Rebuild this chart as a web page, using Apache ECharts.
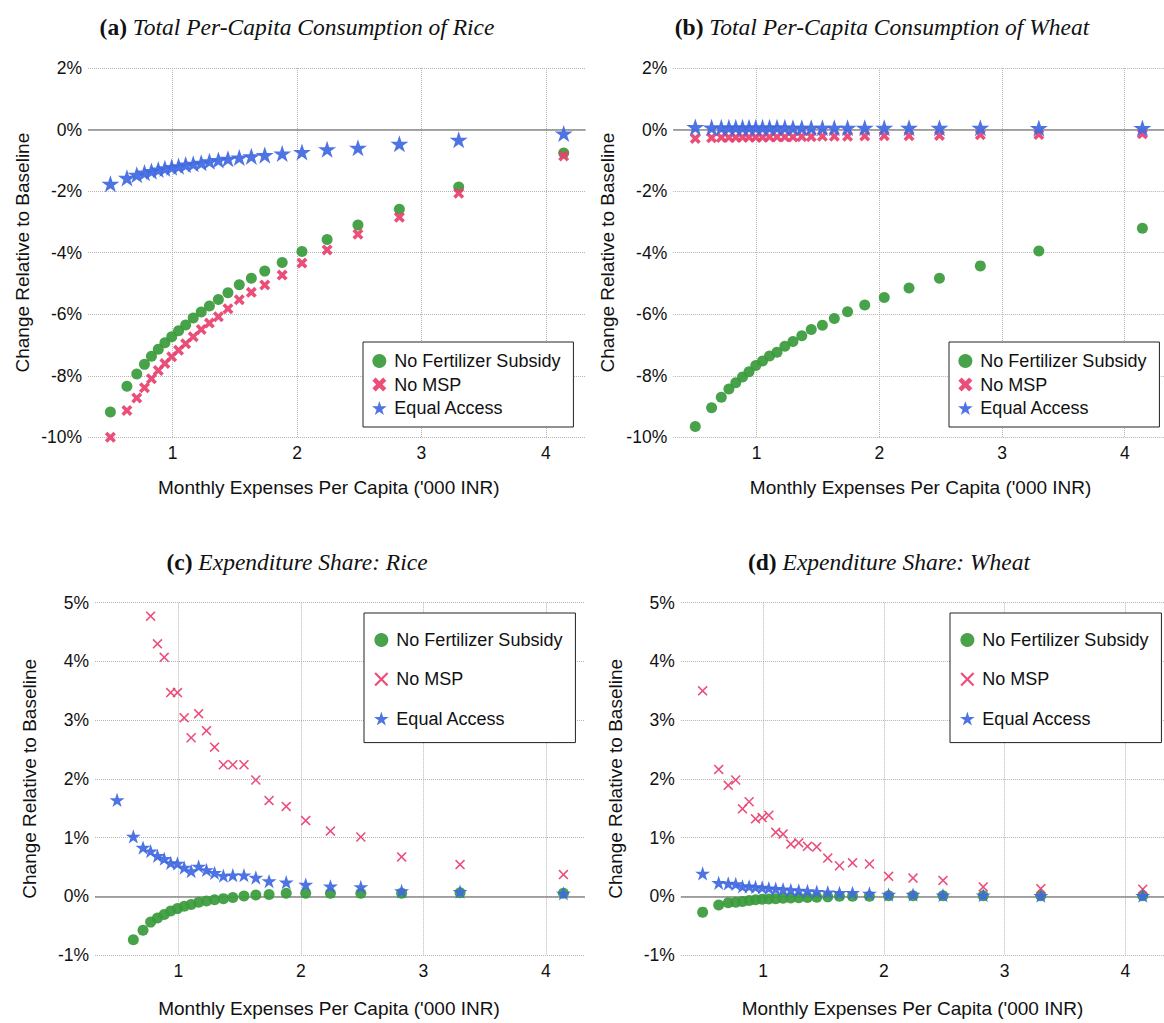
<!DOCTYPE html>
<html>
<head>
<meta charset="utf-8">
<script src="https://cdn.jsdelivr.net/npm/echarts@6/dist/echarts.min.js"></script>
<style>
  html, body { margin: 0; padding: 0; background: #fff; }
  #chart { width: 1164px; height: 1023px; }
</style>
</head>
<body>
<div id="chart"></div>
<script>
// Monthly expenses per capita ('000 INR), one point per expenditure group
const expenses = [0.500, 0.633, 0.712, 0.774, 0.830, 0.885, 0.938, 0.993, 1.048, 1.105,
                  1.166, 1.230, 1.296, 1.368, 1.445, 1.536, 1.633, 1.741, 1.881, 2.040,
                  2.242, 2.490, 2.823, 3.300, 4.144];

// (a) Total per-capita consumption of rice, % change vs baseline
const riceQtyNoFert = [-9.18, -8.34, -7.94, -7.63, -7.37, -7.14, -6.93, -6.73, -6.54, -6.35,
                       -6.12, -5.93, -5.73, -5.52, -5.30, -5.04, -4.83, -4.60, -4.32, -3.96,
                       -3.57, -3.10, -2.59, -1.87, -0.76];
const riceQtyNoMsp = [-10.0, -9.13, -8.72, -8.39, -8.10, -7.83, -7.60, -7.38, -7.17, -6.96,
                      -6.73, -6.50, -6.29, -6.08, -5.82, -5.53, -5.29, -5.05, -4.73, -4.34,
                      -3.91, -3.40, -2.85, -2.07, -0.86];
const riceQtyEqual = [-1.76, -1.57, -1.47, -1.40, -1.35, -1.30, -1.26, -1.22, -1.19, -1.14,
                      -1.11, -1.08, -1.03, -0.99, -0.95, -0.91, -0.87, -0.83, -0.78, -0.73,
                      -0.64, -0.59, -0.46, -0.33, -0.13];

// (b) Total per-capita consumption of wheat
const wheatQtyNoFert = [-9.65, -9.04, -8.70, -8.43, -8.23, -8.04, -7.87, -7.67, -7.52, -7.36,
                        -7.24, -7.04, -6.89, -6.70, -6.50, -6.36, -6.14, -5.92, -5.70, -5.46,
                        -5.15, -4.83, -4.43, -3.95, -3.21];
const wheatQtyNoMsp = [-0.29, -0.27, -0.26, -0.26, -0.26, -0.25, -0.25, -0.25, -0.25, -0.24,
                       -0.24, -0.24, -0.24, -0.23, -0.23, -0.22, -0.22, -0.22, -0.21, -0.20,
                       -0.20, -0.19, -0.17, -0.16, -0.14];
const wheatQtyEqual = [0.08, 0.07, 0.07, 0.07, 0.07, 0.07, 0.07, 0.07, 0.07, 0.07,
                       0.07, 0.07, 0.06, 0.06, 0.06, 0.06, 0.06, 0.06, 0.06, 0.06,
                       0.06, 0.06, 0.06, 0.05, 0.05];

// (c) Expenditure share: rice (null = outside the plotted range)
const riceShareNoFert = [null, -0.74, -0.58, -0.44, -0.37, -0.31, -0.25, -0.21, -0.17, -0.14,
                         -0.10, -0.08, -0.06, -0.04, -0.02, 0.005, 0.02, 0.03, 0.05, 0.05,
                         0.05, 0.05, 0.05, 0.06, 0.05];
const riceShareNoMsp = [null, null, null, 4.77, 4.30, 4.07, 3.47, 3.47, 3.04, 2.70,
                        3.11, 2.82, 2.54, 2.24, 2.24, 2.24, 1.98, 1.63, 1.53, 1.29,
                        1.11, 1.01, 0.67, 0.54, 0.37];
const riceShareEqual = [1.64, 1.02, 0.83, 0.77, 0.69, 0.64, 0.57, 0.56, 0.49, 0.43,
                        0.51, 0.45, 0.40, 0.35, 0.36, 0.36, 0.32, 0.26, 0.24, 0.20,
                        0.17, 0.16, 0.09, 0.08, 0.05];

// (d) Expenditure share: wheat
const wheatShareNoFert = [-0.27, -0.15, -0.11, -0.10, -0.09, -0.07, -0.06, -0.05, -0.045, -0.04,
                          -0.035, -0.03, -0.025, -0.02, -0.015, -0.01, 0.0, 0.0, 0.0, 0.01,
                          0.01, 0.01, 0.01, 0.01, 0.01];
const wheatShareNoMsp = [3.50, 2.16, 1.89, 1.98, 1.49, 1.61, 1.32, 1.34, 1.38, 1.09,
                         1.06, 0.89, 0.91, 0.85, 0.84, 0.65, 0.52, 0.57, 0.55, 0.34,
                         0.31, 0.27, 0.16, 0.13, 0.12];
const wheatShareEqual = [0.39, 0.23, 0.22, 0.21, 0.17, 0.17, 0.16, 0.15, 0.14, 0.13,
                         0.12, 0.11, 0.10, 0.09, 0.08, 0.07, 0.06, 0.06, 0.05, 0.03,
                         0.03, 0.02, 0.02, 0.01, 0.01];

const scenarioNames = ['No Fertilizer Subsidy', 'No MSP', 'Equal Access'];
const panelTags = ['(a)', '(b)', '(c)', '(d)'];
const panelTitles = ['Total Per-Capita Consumption of Rice', 'Total Per-Capita Consumption of Wheat',
                     'Expenditure Share: Rice', 'Expenditure Share: Wheat'];
const xAxisTitle = "Monthly Expenses Per Capita ('000 INR)";
const yAxisTitle = 'Change Relative to Baseline';

const panelValues = [
  [riceQtyNoFert, riceQtyNoMsp, riceQtyEqual],
  [wheatQtyNoFert, wheatQtyNoMsp, wheatQtyEqual],
  [riceShareNoFert, riceShareNoMsp, riceShareEqual],
  [wheatShareNoFert, wheatShareNoMsp, wheatShareEqual]
];

// marker shapes
const STAR = 'path://M50,0L61.23,34.55L97.55,34.55L68.16,55.9L79.39,90.45L50,69.1L20.61,90.45L31.84,55.9L2.45,34.55L38.77,34.55Z';
const X_BOLD = 'path://M0,2.3L2.3,0L5,2.7L7.7,0L10,2.3L7.3,5L10,7.7L7.7,10L5,7.3L2.3,10L0,7.7L2.7,5Z';
const X_THIN = 'path://M0,1.1L1.1,0L5,3.9L8.9,0L10,1.1L6.1,5L10,8.9L8.9,10L5,6.1L1.1,10L0,8.9L3.9,5Z';
const COLORS = ['#3a9b3c', '#e8416f', '#4169e1'];

const SANS = 'Liberation Sans';
const SERIF = 'Liberation Serif';

// layout of the four panels
const layout = [
  { grid: { left: 88, top: 68, width: 497.6, height: 369.3 }, y: [-10, 2, 2],
    title: [297, 27], namePad: [0, 16, 0, 0],
    legend: { left: 363, top: 342, gap: 5.5, pad: [10, 13, 10, 9], icon: 14 },
    xMark: X_BOLD, sizes: [11, 11, 18] },
  { grid: { left: 673.2, top: 68, width: 497.2, height: 369.3 }, y: [-10, 2, 2],
    title: [882, 27], namePad: [0, 0, 0, 4],
    legend: { left: 949, top: 342, gap: 5.5, pad: [10, 13, 10, 9], icon: 14 },
    xMark: X_BOLD, sizes: [11, 11, 18] },
  { grid: { left: 95, top: 602.7, width: 490, height: 352.3 }, y: [-1, 5, 1],
    title: [297, 562], namePad: [3, 22, 0, 0],
    legend: { left: 364, top: 613, gap: 21.3, pad: [18, 13, 15, 10], icon: 14 },
    xMark: X_THIN, sizes: [11, 10, 15] },
  { grid: { left: 680.9, top: 602.7, width: 488.8, height: 352.3 }, y: [-1, 5, 1],
    title: [889, 562], namePad: [3, 20, 0, 0],
    legend: { left: 950, top: 613, gap: 21.3, pad: [18, 13, 15, 10], icon: 14 },
    xMark: X_THIN, sizes: [11, 10, 15] }
];

function points(ys) {
  const out = [];
  expenses.forEach((x, i) => { if (ys[i] != null) out.push([x, ys[i]]); });
  return out;
}

const grids = [], xAxes = [], yAxes = [], series = [], legends = [], graphics = [];

layout.forEach((p, k) => {
  grids.push(Object.assign({ containLabel: false }, p.grid));

  xAxes.push({
    type: 'value', gridIndex: k, min: 0.32, max: 4.32, splitNumber: 4,
    name: xAxisTitle, nameLocation: 'middle', nameGap: 41,
    nameTextStyle: { fontFamily: SANS, fontSize: 19, color: '#111', padding: p.namePad },
    axisLine: { show: false }, axisTick: { show: false },
    axisLabel: { fontFamily: SANS, fontSize: 17.5, color: '#111', margin: 7,
                 showMinLabel: false, showMaxLabel: false },
    splitLine: { show: true, showMinLine: false, showMaxLine: false,
                 lineStyle: { type: 'dotted', color: '#b4b4b4', width: 1 } }
  });

  yAxes.push({
    type: 'value', gridIndex: k, min: p.y[0], max: p.y[1], interval: p.y[2],
    name: yAxisTitle, nameLocation: 'middle', nameGap: 56, nameRotate: 90,
    nameTextStyle: { fontFamily: SANS, fontSize: 19, color: '#111' },
    axisLine: { show: false }, axisTick: { show: false },
    axisLabel: { fontFamily: SANS, fontSize: 17.5, color: '#111', margin: 6,
                 formatter: v => v + '%' },
    splitLine: { show: true, lineStyle: { type: 'dotted', color: '#b4b4b4', width: 1 } }
  });

  const symbols = ['circle', p.xMark, STAR];
  panelValues[k].forEach((ys, s) => {
    const ser = {
      type: 'scatter', name: scenarioNames[s], xAxisIndex: k, yAxisIndex: k,
      data: points(ys), symbol: symbols[s], symbolSize: p.sizes[s], symbolKeepAspect: true,
      itemStyle: { color: COLORS[s], opacity: 0.93 },
      clip: false, silent: true, z: 2 + s
    };
    if (s === 0) {
      ser.markLine = {
        silent: true, symbol: ['none', 'none'], label: { show: false },
        lineStyle: { type: 'solid', color: '#8a8a8a', width: 1.5 },
        data: [{ yAxis: 0 }], z: 1
      };
    }
    series.push(ser);
  });

  legends.push({
    orient: 'vertical', left: p.legend.left, top: p.legend.top,
    itemGap: p.legend.gap, padding: p.legend.pad,
    itemWidth: 20, itemHeight: p.legend.icon, selectedMode: false,
    backgroundColor: '#fff', borderColor: '#222', borderWidth: 1, borderRadius: 0,
    textStyle: { fontFamily: SANS, fontSize: 18, color: '#111' },
    data: scenarioNames.map((n, s) => ({ name: n, icon: symbols[s] }))
  });

  graphics.push({
    type: 'text', x: p.title[0], y: p.title[1],
    style: {
      text: '{b|' + panelTags[k] + '} {i|' + panelTitles[k] + '}',
      align: 'center', verticalAlign: 'middle',
      fontFamily: SERIF, fontSize: 23.5, fill: '#111',
      rich: {
        b: { fontFamily: SERIF, fontSize: 23.5, fontWeight: 'bold', fill: '#111' },
        i: { fontFamily: SERIF, fontSize: 23.5, fontStyle: 'italic', fill: '#111' }
      }
    }
  });
});

const chart = echarts.init(document.getElementById('chart'), null, { renderer: 'svg' });
chart.setOption({
  animation: false,
  backgroundColor: '#fff',
  grid: grids, xAxis: xAxes, yAxis: yAxes,
  legend: legends, series: series, graphic: graphics
});
</script>
</body>
</html>
